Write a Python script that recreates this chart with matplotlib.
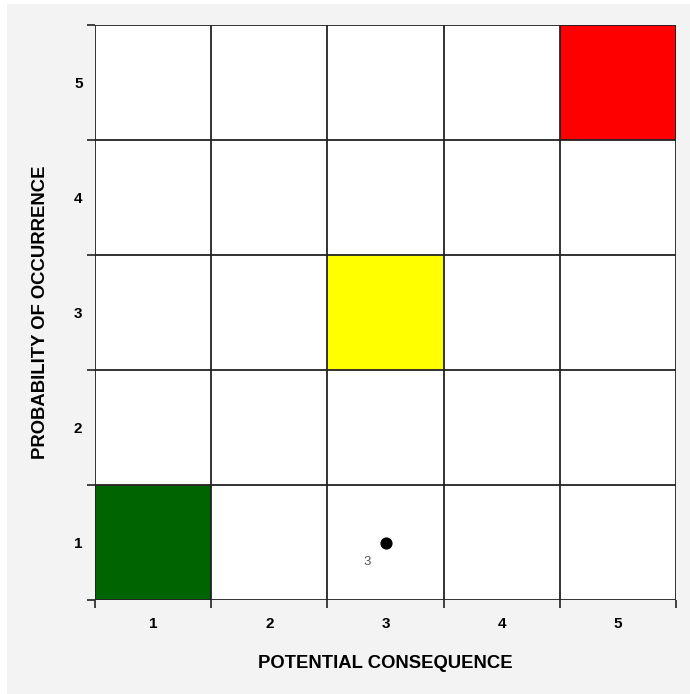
import matplotlib
matplotlib.use("Agg")
import matplotlib.pyplot as plt
from matplotlib.patches import Rectangle

plt.rcParams['font.family'] = ['Liberation Sans Narrow', 'Liberation Sans', 'DejaVu Sans']

# risk matrix data
levels = [1, 2, 3, 4, 5]
tick_labels = ['1', '2', '3', '4', '5']
# coloured cells: (consequence, probability, colour)
cell_x = [1, 3, 5]
cell_y = [1, 3, 5]
cell_colors = ['#006400', '#ffff00', '#ff0000']
# plotted risk items
risk_x = [3]
risk_y = [1]
risk_ids = ['3']

fig = plt.figure(figsize=(6.9, 6.94), dpi=100)
fig.patch.set_facecolor('#f3f3f3')
# white screenshot margin at top/left
fig.patches.append(Rectangle((0, 0), 7 / 690, 1, transform=fig.transFigure,
                             facecolor='white', edgecolor='none', zorder=-1))
fig.patches.append(Rectangle((0, 1 - 4 / 694), 1, 4 / 694, transform=fig.transFigure,
                             facecolor='white', edgecolor='none', zorder=-1))

ax = fig.add_axes([95 / 690, 94 / 694, 581 / 690, 575 / 694])
ax.set_facecolor('white')
ax.set_xlim(0.5, 5.5)
ax.set_ylim(0.5, 5.5)

for cx, cy, col in zip(cell_x, cell_y, cell_colors):
    ax.add_patch(Rectangle((cx - 0.5, cy - 0.5), 1, 1, facecolor=col,
                           edgecolor='none', zorder=1))

# grid lines at cell boundaries
bounds = [v + 0.5 for v in [0] + levels]
for b in bounds:
    ax.axvline(b, color='#222222', lw=1.3, zorder=2)
    ax.axhline(b, color='#222222', lw=1.3, zorder=2)

for s in ax.spines.values():
    s.set_visible(False)

# major ticks at boundaries (no labels), minor ticks at centres carry labels
ax.set_xticks(bounds)
ax.set_yticks(bounds)
ax.set_xticklabels([])
ax.set_yticklabels([])
ax.set_xticks(levels, minor=True)
ax.set_yticks(levels, minor=True)
ax.set_xticklabels(tick_labels, minor=True, fontweight='bold', fontsize=11)
ax.set_yticklabels(tick_labels, minor=True, fontweight='bold', fontsize=11)
ax.tick_params(which='major', length=6, width=1.2, color='#222222')
ax.tick_params(which='minor', length=0, pad=12)
ax.tick_params(axis='y', which='minor', pad=9)

ax.scatter(risk_x, risk_y, s=60, color='black', zorder=3)
for x, y, t in zip(risk_x, risk_y, risk_ids):
    ax.annotate(t, (x, y), xytext=(-13, -14), textcoords='offset points',
                fontsize=9.5, color='#555555', ha='center', va='center')

ax.set_xlabel('POTENTIAL CONSEQUENCE', fontweight='bold', fontsize=13.3, labelpad=17.5)
ax.set_ylabel('PROBABILITY OF OCCURRENCE', fontweight='bold', fontsize=13.3, labelpad=18)

fig.savefig('out.png', dpi=100, facecolor=fig.get_facecolor())
